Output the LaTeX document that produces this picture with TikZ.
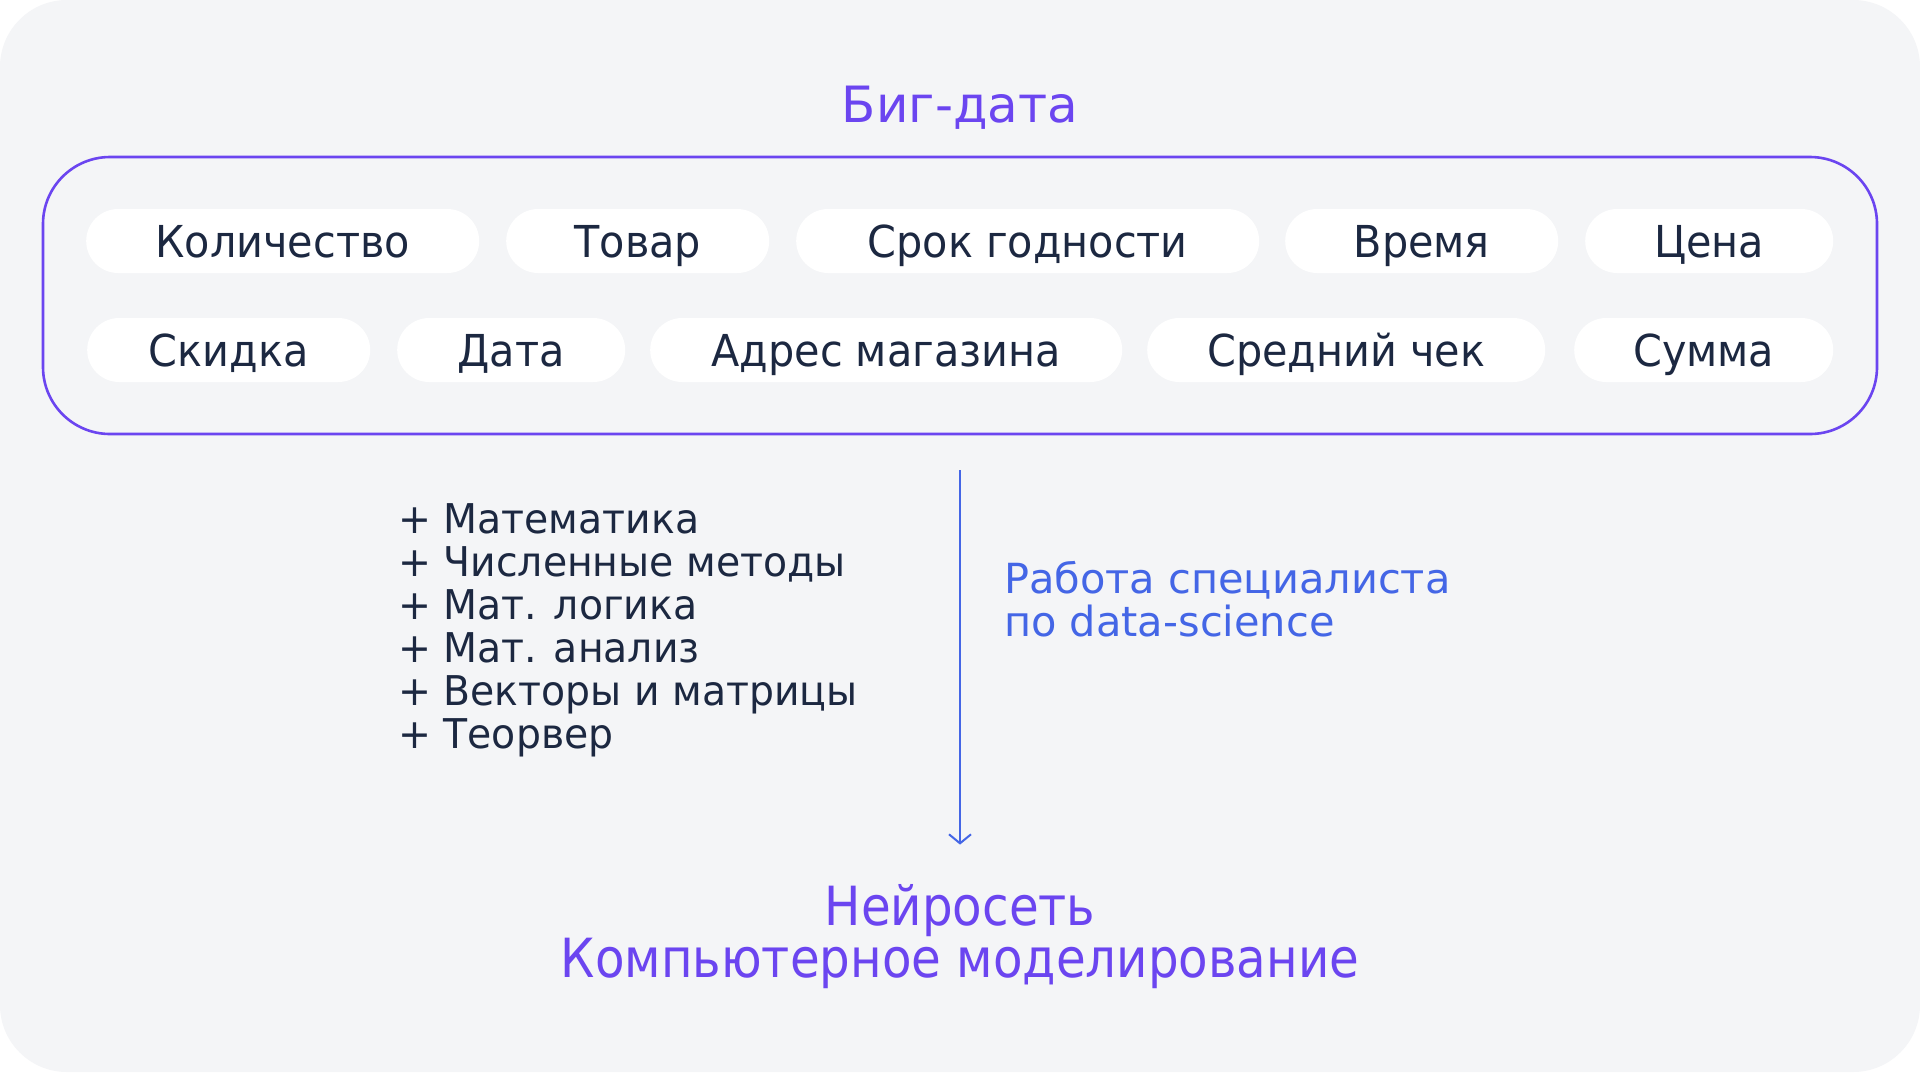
\documentclass[tikz,border=0pt]{standalone}
\usepackage{fontspec}
\setmainfont{DejaVu Sans}
\newfontfamily\pillfont[FakeStretch=0.94]{DejaVu Sans}
\newfontfamily\listfont[FakeStretch=0.96]{DejaVu Sans}
\newfontfamily\outfont[FakeStretch=0.895]{DejaVu Sans}
\usetikzlibrary{arrows.meta}
\definecolor{bg}{HTML}{F4F5F7}
\definecolor{purp}{HTML}{6B45F0}
\definecolor{blu}{HTML}{4466E6}
\definecolor{ink}{HTML}{1C2841}
\begin{document}
\begin{tikzpicture}[x=1pt,y=-1pt,
  pill/.style={draw=none,fill=white,rounded corners=32pt,minimum height=64pt,inner sep=0pt,
    text=ink,font=\pillfont\fontsize{44}{44}\selectfont,text height=32pt,text depth=0pt,anchor=west},
  listitem/.style={text=ink,font=\listfont\fontsize{41}{41}\selectfont,anchor=base west,inner sep=0pt},
  bluetext/.style={text=blu,font=\fontsize{41.5}{41.5}\selectfont,anchor=base west,inner sep=0pt},
  purptext/.style={text=purp,inner sep=0pt,anchor=base}]
\useasboundingbox (0,0) rectangle (1920,1072);
\fill[white] (0,0) rectangle (1920,1072);
\fill[bg,rounded corners=67pt] (0,0) rectangle (1920,1072);
\node[purptext,font=\fontsize{50}{50}\selectfont] (title) at (960,122) {Биг-дата};
\node[draw=purp,line width=2.6pt,rounded corners=67pt,minimum width=1834pt,minimum height=277pt,inner sep=0pt] (box) at (960,295.5) {};
% row 1
\node[pill,minimum width=393pt] (p1) at (86,241) {Количество};
\node[pill,minimum width=263pt] (p2) at (506,241) {Товар};
\node[pill,minimum width=463pt] (p3) at (796,241) {Срок годности};
\node[pill,minimum width=273pt] (p4) at (1285,241) {Время};
\node[pill,minimum width=248pt] (p5) at (1585,241) {Цена};
% row 2
\node[pill,minimum width=283pt] (q1) at (87,350) {Скидка};
\node[pill,minimum width=228pt] (q2) at (397,350) {Дата};
\node[pill,minimum width=472pt] (q3) at (650,350) {Адрес магазина};
\node[pill,minimum width=398pt] (q4) at (1147,350) {Средний чек};
\node[pill,minimum width=259pt] (q5) at (1574,350) {Сумма};
% list
\node[listitem] (l1) at (398,533) {+ Математика};
\node[listitem] (l2) at (398,576) {+ Численные методы};
\node[listitem] (l3) at (398,619) {+ Мат. логика};
\node[listitem] (l4) at (398,662) {+ Мат. анализ};
\node[listitem] (l5) at (398,705) {+ Векторы и матрицы};
\node[listitem] (l6) at (398,748) {+ Теорвер};
% blue
\node[bluetext] (b1) at (1004,593) {Работа специалиста};
\node[bluetext] (b2) at (1004,636) {по data-science};
% bottom
\node[purptext,font=\outfont\fontsize{54}{54}\selectfont,text height=39pt,text depth=0pt,anchor=south] (o1) at (960,926) {Нейросеть};
\node[purptext,font=\outfont\fontsize{54}{54}\selectfont] (o2) at (960,977) {Компьютерное моделирование};
\draw[blu,line width=2pt,-{Straight Barb[length=9pt,width=22pt,line width=2pt]}] ([yshift=-35pt]box.south) -- ([yshift=42pt]o1.north);
\end{tikzpicture}
\end{document}
